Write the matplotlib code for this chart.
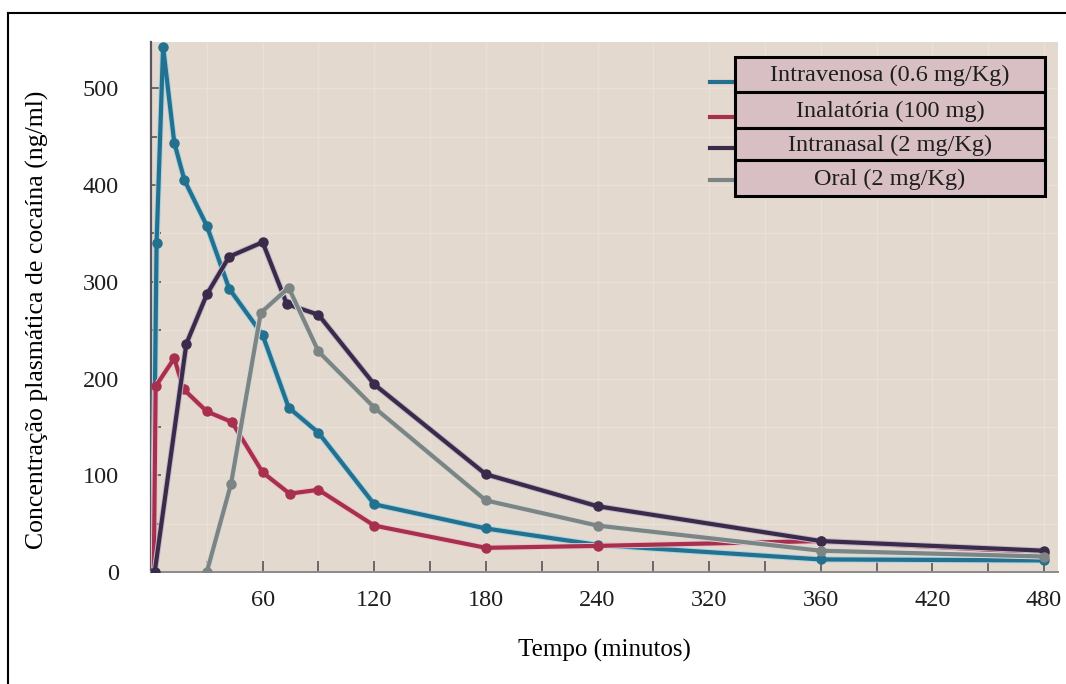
import matplotlib
matplotlib.use("Agg")
import matplotlib.pyplot as plt
import matplotlib.patheffects as pe
from matplotlib.patches import Rectangle
from matplotlib.lines import Line2D

# tempo (min) e concentracao (ng/ml)
iv_t = [1, 3, 6.5, 12.5, 18, 30, 42, 60, 74, 90, 120, 180, 240, 360, 480]
iv_v = [0, 340, 543, 444, 405, 358, 293, 245, 170, 144, 70, 45, 28, 13, 12]

inal_t = [1.5, 2.5, 12.5, 17.5, 30, 43.5, 60, 74.5, 90, 120, 180, 240, 360, 480]
inal_v = [0, 192, 221, 189, 166, 155, 103, 81, 85, 48, 25, 27, 32, 20]

nasal_t = [2, 19, 30, 42, 60, 73, 90, 120, 180, 240, 360, 480]
nasal_v = [0, 236, 287, 326, 341, 277, 266, 194, 101, 68, 32, 22]

oral_t = [30, 43, 59, 74, 90, 120, 180, 240, 360, 480]
oral_v = [0, 91, 268, 294, 228, 170, 74, 48, 22, 16]

labels = ["Intravenosa (0.6 mg/Kg)", "Inalatória (100 mg)",
          "Intranasal (2 mg/Kg)", "Oral (2 mg/Kg)"]
colors = ["#23708f", "#a8304f", "#3b2b4a", "#7c8584"]
halos = ["#a7d3e2", "#ecc3cd", "#c2b9c8", "#d6d9d7"]

xticks = [60, 120, 180, 240, 300, 360, 420, 480]
xticklabels = ["60", "120", "180", "240", "320", "360", "420", "480"]
yticks = [0, 100, 200, 300, 400, 500]

plt.rcParams["font.family"] = ["Liberation Serif", "DejaVu Serif"]
plt.rcParams["text.color"] = "#1e1e1e"
plt.rcParams["xtick.labelcolor"] = "#1e1e1e"
plt.rcParams["ytick.labelcolor"] = "#1e1e1e"

fig = plt.figure(figsize=(10.66, 6.84), dpi=100)
ax = fig.add_axes([151 / 1066, 1 - 572 / 684, 907 / 1066, 530 / 684])
ax.set_facecolor("#e4d9cf")

# faint grid of the scanned paper
for gx in range(30, 481, 30):
    ax.axvline(gx, color="#e9e1d9", lw=1.0, zorder=0)
for gy in range(50, 550, 50):
    ax.axhline(gy, color="#e9e1d9", lw=1.0, zorder=0)

series = [(oral_t, oral_v, 3), (iv_t, iv_v, 0), (inal_t, inal_v, 1), (nasal_t, nasal_v, 2)]
for t, v, i in series:
    ax.plot(t, v, color=colors[i], lw=3.0, zorder=3 + i,
            path_effects=[pe.Stroke(linewidth=4.4, foreground=halos[i]), pe.Normal()])
    ax.plot(t, v, ls="none", marker="o", ms=6.5, mec=colors[i], mfc=colors[i], zorder=3 + i)

ax.set_xlim(0, 487.5)
ax.set_ylim(0, 548)
ax.set_xticks(range(30, 481, 30), minor=True)
ax.set_xticks(xticks)
ax.set_xticklabels(xticklabels)
ax.set_yticks(yticks)
ax.set_yticks(range(50, 550, 100), minor=True)
ax.tick_params(axis="x", which="both", direction="in", length=8, width=1.2, color="#555555",
               pad=13, labelsize=17.5)
ax.tick_params(axis="y", which="both", direction="in", length=7, width=1.2, color="#555555",
               pad=23, labelsize=17.5)
for s in ["top", "right"]:
    ax.spines[s].set_visible(False)
ax.spines["left"].set_color("#5a5560")
ax.spines["left"].set_linewidth(1.6)
ax.spines["bottom"].set_color("#8a8a8a")
ax.spines["bottom"].set_linewidth(1.4)

ax.set_xlabel("Tempo (minutos)", fontsize=18, labelpad=20)
ax.set_ylabel("Concentração plasmática de cocaína (ng/ml)", fontsize=18.5)
ax.yaxis.set_label_coords(-0.112, 0.475)

# legend: short line stubs + pink label boxes
W, H = 1066, 684
rows = [(56.7, 92.3), (92.3, 128.3), (128.3, 160), (160, 196)]
stubs = [81.7, 116.7, 148.3, 180]
for i, (top, bot) in enumerate(rows):
    y0 = 1 - bot / H
    fig.add_artist(Rectangle((735 / W, y0), 310 / W, (bot - top) / H, transform=fig.transFigure,
                             facecolor="#d8bfc4", edgecolor="black", lw=2.2, zorder=10))
    fig.add_artist(Line2D([710 / W, 735 / W], [1 - stubs[i] / H] * 2, transform=fig.transFigure,
                          color=colors[i], lw=3, zorder=9))
    ym = 1 - ((top + bot) / 2 + 1) / H
    fig.text(890 / W, ym, labels[i], ha="center", va="center", fontsize=17.5, zorder=11)

# outer frame of the figure
fig.add_artist(Line2D([8 / W, 8 / W], [0, 1 - 13 / H], transform=fig.transFigure, color="black", lw=1.5))
fig.add_artist(Line2D([8 / W, 1], [1 - 13 / H, 1 - 13 / H], transform=fig.transFigure, color="black", lw=1.5))

fig.savefig("out.png", dpi=100)
